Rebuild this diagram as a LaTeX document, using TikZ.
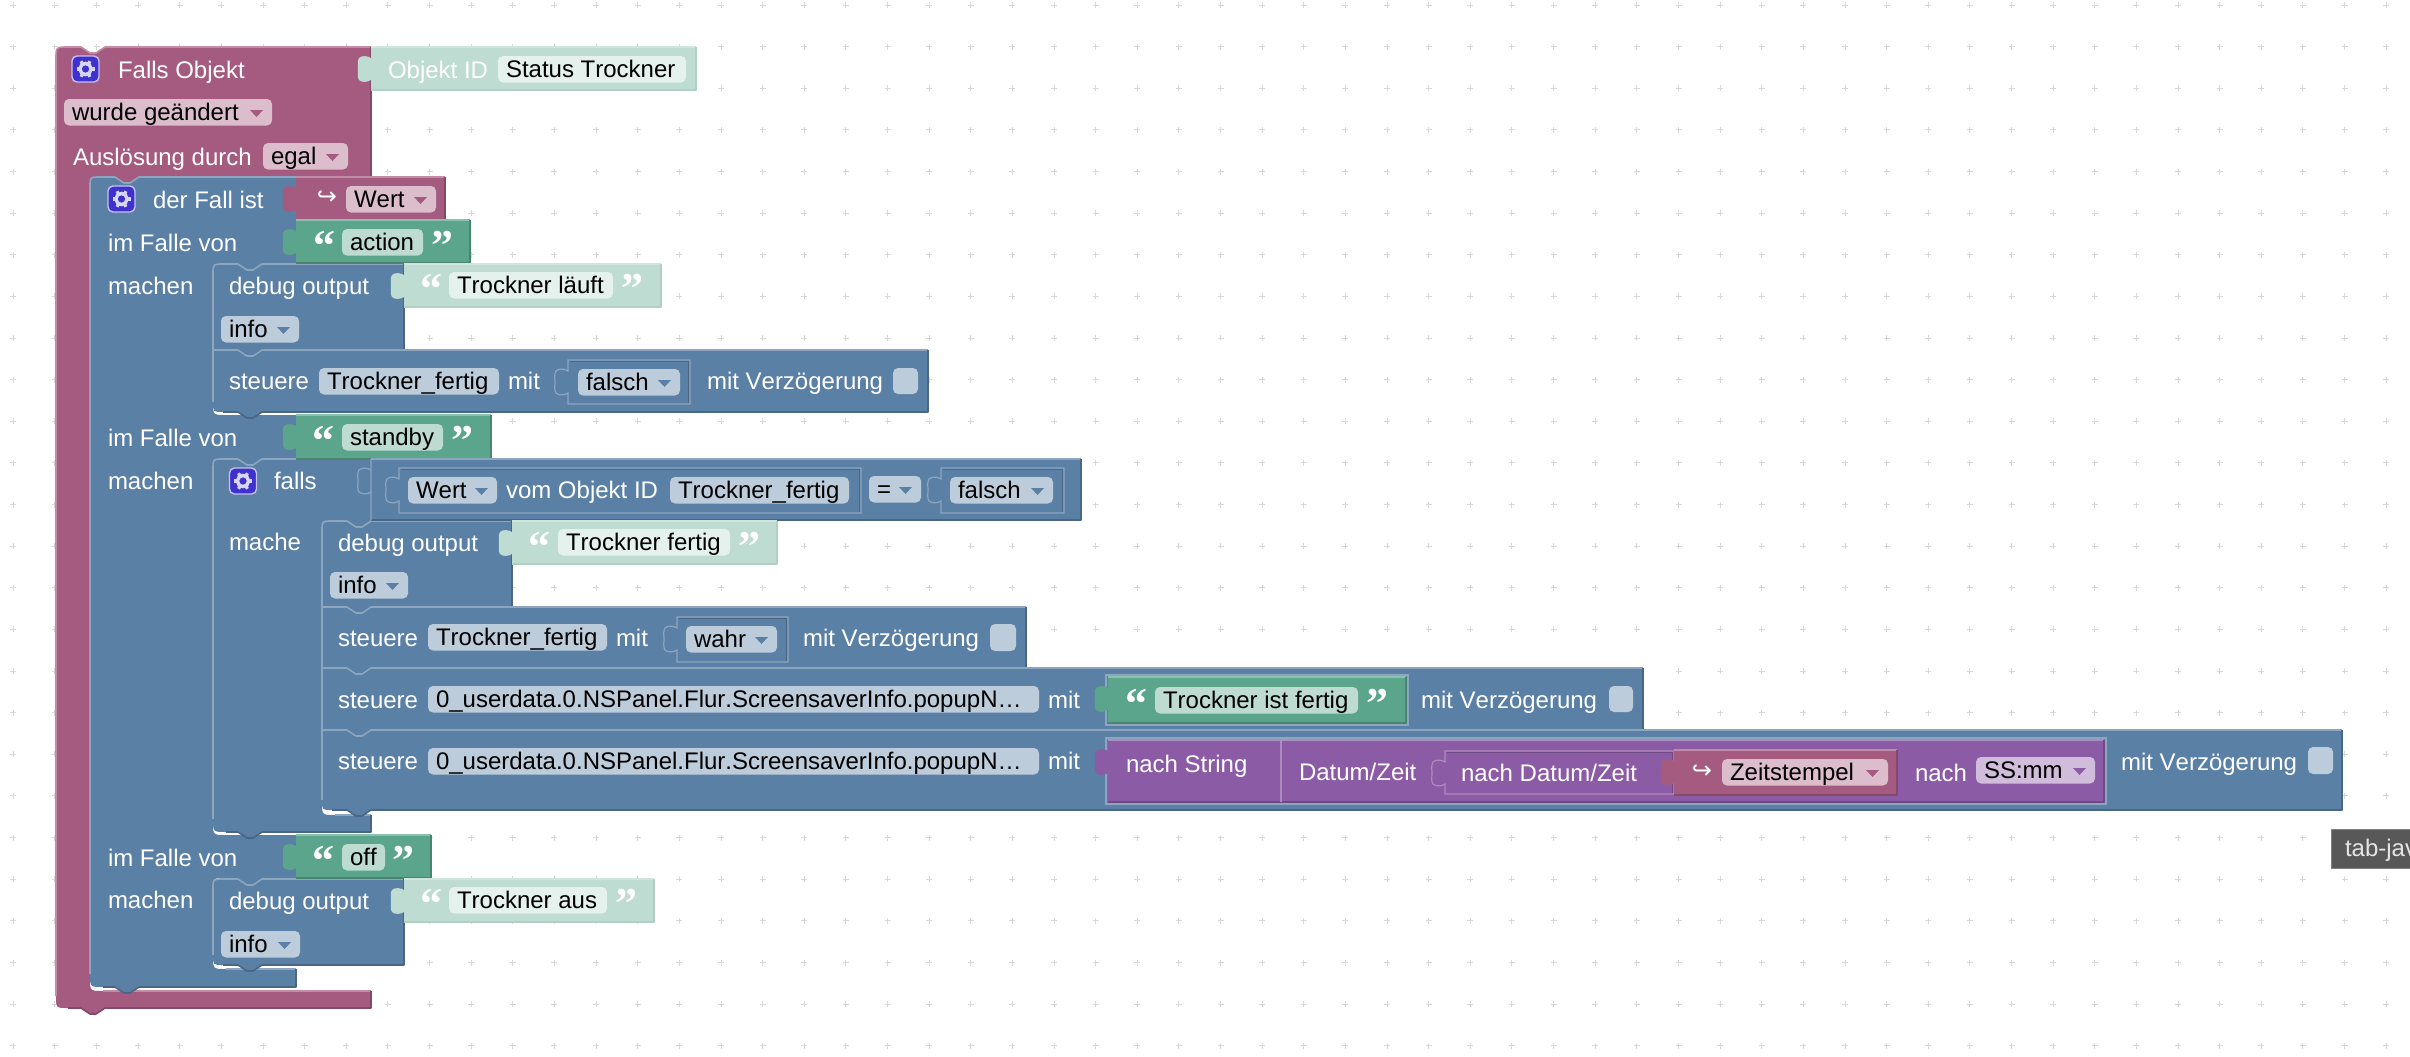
\documentclass[tikz,border=0pt]{standalone}
\usepackage{fontspec}
\setmainfont{Liberation Sans}[Kerning=Off]
\newfontfamily\djvfont{DejaVu Sans}
\newfontfamily\qfont{Liberation Serif}[BoldFont={Liberation Serif Bold}]
\definecolor{b}{HTML}{5B80A5}\definecolor{bL}{HTML}{8CA6C0}\definecolor{bD}{HTML}{496684}\definecolor{bP}{HTML}{BDCCDB}
\definecolor{m}{HTML}{A55B80}\definecolor{mL}{HTML}{C08CA6}\definecolor{mD}{HTML}{844966}\definecolor{mP}{HTML}{DBBDCC}
\definecolor{g}{HTML}{5BA58C}\definecolor{gL}{HTML}{8CC0AE}\definecolor{gD}{HTML}{498470}\definecolor{gP}{HTML}{BDDBD1}
\definecolor{s}{HTML}{BEDCD1}\definecolor{sL}{HTML}{CFE5DD}\definecolor{sD}{HTML}{B0D0C4}\definecolor{sP}{HTML}{E4F1ED}
\definecolor{p}{HTML}{8B5BA5}\definecolor{pL}{HTML}{AD8CC0}\definecolor{pD}{HTML}{6F4984}\definecolor{pP}{HTML}{D1BDDB}
\definecolor{gridc}{HTML}{D8D8D8}
\definecolor{iconc}{HTML}{3F30D0}
\definecolor{tipc}{HTML}{585858}
\newcounter{nn}
\tikzset{
  lbl/.style={anchor=base west,inner sep=0pt,outer sep=0pt,font=\fontsize{12}{14}\selectfont},
  hl/.style={line width=.8pt,line join=round,draw=#1},
  thin box/.style={line width=.6pt,draw=#1},
  quotemark/.style={inner sep=0pt,outer sep=0pt,yshift=-3.5pt,font=\fontsize{22}{24}\selectfont\qfont\bfseries},
}
% text label: [colour]{x}{baseline y}{text}
\newcommand{\lab}[4][white]{\stepcounter{nn}\node[lbl,text=#1] (n\thenn) at (#2,#3) {#4};}
% pill: fill, x1, y1, x2, text, triangle colour
\newcommand{\pill}[6]{%
  \fill[#1,rounded corners=2.5pt] (#2,#3) rectangle (#4,{#3+26.5});
  \lab[black]{{#2+8}}{{#3+21.5}}{#5}
  \def\tmpt{#6}\ifx\tmpt\empty\else
    \fill[#6] ({#4-22},{#3+11}) -- ({#4-9},{#3+11}) -- ({#4-15.5},{#3+18}) -- cycle;
  \fi}
% parent's bump that fills a child's top dent
\newcommand{\bump}[3]{\fill[#1] ({#2+24},{#3-1}) -- ({#2+50},{#3-1}) -- ({#2+41},{#3+7}) -- ({#2+33},{#3+7}) -- cycle;}
% stack block: colour, l, t, r, b, top radius, bottom radius
\newcommand{\stmt}[7]{%
  \fill[#1] (#2,{#3+#6}) .. controls (#2,#3) .. ({#2+#6},#3) -- ({#2+25},#3) -- ({#2+34},{#3+6}) -- ({#2+40},{#3+6}) -- ({#2+49},#3) -- (#4,#3) -- (#4,#5) -- ({#2+49},#5) -- ({#2+40},{#5+6}) -- ({#2+34},{#5+6}) -- ({#2+25},#5) -- ({#2+#7},#5) .. controls (#2,#5) .. (#2,{#5-#7}) -- cycle;
  \draw[hl=#1L] (#2,{#5-#7}) -- (#2,{#3+#6}) .. controls (#2,#3) .. ({#2+#6},#3) -- ({#2+25},#3) -- ({#2+34},{#3+6}) -- ({#2+40},{#3+6}) -- ({#2+49},#3) -- (#4,#3);
  \draw[hl=#1D] (#4,#3) -- (#4,#5) -- ({#2+49},#5) -- ({#2+40},{#5+6}) -- ({#2+34},{#5+6}) -- ({#2+25},#5) -- ({#2+#7},#5);}
% puzzle tab path piece (going up the left side of a value block)
\newcommand{\tabpath}[2]{(#1,{#2+33}) .. controls ({#1-3},{#2+35}) and ({#1-9},{#2+36}) .. ({#1-12},{#2+33}) .. controls ({#1-14},{#2+30}) and ({#1-13},{#2+26}) .. ({#1-13},{#2+22}) .. controls ({#1-13},{#2+18}) and ({#1-14},{#2+14}) .. ({#1-12},{#2+11}) .. controls ({#1-9},{#2+8}) and ({#1-3},{#2+9}) .. (#1,{#2+11})}
% value block: colour, x, t, r, b
\newcommand{\val}[5]{%
  \fill[#1] (#2,#3) -- (#4,#3) -- (#4,#5) -- (#2,#5) -- \tabpath{#2}{#3} -- cycle;
  \draw[hl=#1L] (#4,#3) -- (#2,#3);
  \draw[hl=#1D] (#4,#3) -- (#4,#5) -- (#2,#5);}
% nested same-colour block: light outline
\newcommand{\nest}[5]{%
  \fill[#1] (#2,#3) -- (#4,#3) -- (#4,#5) -- (#2,#5) -- \tabpath{#2}{#3} -- cycle;
  \draw[thin box=#1L] (#4,#3) -- (#4,#5) -- (#2,#5) -- \tabpath{#2}{#3} -- (#2,#3) -- cycle;
  \draw[thin box=#1D] ({#2+1.5},{#3+1.5}) -- ({#4-1.5},{#3+1.5}) -- ({#4-1.5},{#5-1.5});}
\newcommand{\gearicon}[2]{%
  \fill[iconc,draw=white!70!iconc,line width=.7pt,rounded corners=2.5pt] ({#1-13.5},{#2-13}) rectangle ({#1+13.5},{#2+13});
  \foreach \a in {0,60,...,300}{\draw[white!80!iconc,line width=1.6pt] ({#1+5.5*cos(\a)},{#2+5.5*sin(\a)}) -- ({#1+9*cos(\a)},{#2+9*sin(\a)});}
  \draw[white!80!iconc,line width=1.7pt] (#1,#2) circle[radius=2.8pt];}
\newcommand{\qopen}[3]{\stepcounter{nn}\node[quotemark,text=#1] (n\thenn) at (#2,#3) {“};}
\newcommand{\qclose}[3]{\stepcounter{nn}\node[quotemark,text=#1] (n\thenn) at (#2,#3) {”};}
\newcommand{\hook}[2]{\stepcounter{nn}\node[inner sep=0pt,text=white,font=\fontsize{12}{14}\selectfont\djvfont] (n\thenn) at (#1,#2) {↪};}
\begin{document}
\begin{tikzpicture}[x=0.5pt,y=-0.5pt]
\useasboundingbox (0,0) rectangle (2410,1056);
\clip (0,0) rectangle (2410,1056);
\fill[white] (0,0) rectangle (2410,1056);
% workspace grid
\foreach \i in {0,...,57}{\foreach \j in {0,...,25}{%
  \draw[gridc,line width=.5pt] ({13.3+41.63*\i-3},{5+41.63*\j}) -- ({13.3+41.63*\i+3},{5+41.63*\j}) ({13.3+41.63*\i},{5+41.63*\j-3}) -- ({13.3+41.63*\i},{5+41.63*\j+3});}}
% root block
\fill[m] (56,59) .. controls (56,47) .. (68,47) -- (81,47) -- (90,53) -- (96,53) -- (105,47) -- (371,47) -- (371,177) -- (100,177) .. controls (90,177) .. (90,187) -- (90,978) .. controls (90,991) .. (103,991) -- (371,991) -- (371,1008) -- (105,1008) -- (96,1014) -- (90,1014) -- (81,1008) -- (68,1008) .. controls (56,1008) .. (56,996) -- cycle;
\draw[hl=mL] (56,996) -- (56,59) .. controls (56,47) .. (68,47) -- (81,47) -- (90,53) -- (96,53) -- (105,47) -- (371,47);
\draw[hl=mL] (103,991) -- (371,991);
\draw[hl=mD] (371,47) -- (371,177) (371,991) -- (371,1008) -- (105,1008) -- (96,1014) -- (90,1014) -- (81,1008) -- (68,1008);
% der Fall ist
\bump{m}{90}{177}
\fill[b] (90,187) .. controls (90,177) .. (100,177) -- (115,177) -- (124,183) -- (130,183) -- (139,177) -- (296,177) -- (296,264) -- (223,264) .. controls (213,264) .. (213,274) -- (213,402) .. controls (213,415) .. (226,415) -- (296,415) -- (296,459) -- (223,459) .. controls (213,459) .. (213,469) -- (213,822) .. controls (213,835) .. (226,835) -- (296,835) -- (296,878) -- (223,878) .. controls (213,878) .. (213,888) -- (213,956) .. controls (213,969) .. (226,969) -- (296,969) -- (296,987) -- (139,987) -- (130,993) -- (124,993) -- (115,987) -- (103,987) .. controls (90,987) .. (90,974) -- cycle;
\draw[hl=bL] (90,974) -- (90,187) .. controls (90,177) .. (100,177) -- (115,177) -- (124,183) -- (130,183) -- (139,177) -- (296,177);
\draw[hl=bL] (226,969) -- (296,969);
\draw[hl=bD] (296,969) -- (296,987) -- (139,987) -- (130,993) -- (124,993) -- (115,987) -- (103,987);
% case 1 statements
\bump{b}{213}{264}
\stmt{b}{213}{264}{404}{350}{10}{0}
\stmt{b}{213}{350}{928}{412}{0}{10}
% falls block
\bump{b}{213}{459}
\fill[b] (213,469) .. controls (213,459) .. (223,459) -- (238,459) -- (247,465) -- (253,465) -- (262,459) -- (371,459) -- (371,521) -- (332,521) .. controls (322,521) .. (322,531) -- (322,802) .. controls (322,815) .. (335,815) -- (371,815) -- (371,832) -- (262,832) -- (253,838) -- (247,838) -- (238,832) -- (226,832) .. controls (213,832) .. (213,819) -- cycle;
\draw[hl=bL] (213,819) -- (213,469) .. controls (213,459) .. (223,459) -- (238,459) -- (247,465) -- (253,465) -- (262,459) -- (371,459);
\draw[hl=bL] (335,815) -- (371,815);
\draw[hl=bD] (371,815) -- (371,832) -- (262,832) -- (253,838) -- (247,838) -- (238,832) -- (226,832);
% falls inner statements
\bump{b}{322}{521}
\stmt{b}{322}{521}{512}{607}{10}{0}
\stmt{b}{322}{607}{1026}{668}{0}{0}
\stmt{b}{322}{668}{1643}{730}{0}{0}
\stmt{b}{322}{730}{2342}{810}{0}{10}
% case 3 statement
\bump{b}{213}{879}
\stmt{b}{213}{879}{404}{965}{10}{10}
% value blocks
\val{s}{371}{47}{696}{90}
\val{m}{296}{177}{445}{220}
\val{g}{296}{220}{470}{263}
\val{s}{404}{264}{661}{307}
\val{g}{296}{415}{491}{459}
\val{b}{371}{459}{1081}{520}
\draw[thin box=bL] (371,459) -- \tabpath{371}{459} -- (371,520);
\val{s}{512}{521}{777}{564}
\val{g}{296}{835}{431}{878}
\val{s}{404}{879}{654}{922}
% nested boxes
\nest{b}{568}{360}{690}{404}
\nest{b}{399}{468}{861}{513}
\nest{b}{941}{468}{1064}{513}
\nest{b}{677}{617}{788}{662}
\draw[thin box=bL] (1106,675) rectangle (1408,725);
\val{g}{1108}{677}{1406}{723}
\draw[thin box=bL] (1106,738) rectangle (2106,804);
\val{p}{1108}{740}{1281}{802}
\val{p}{1281}{740}{2104}{802}
\draw[thin box=pL] (1281,740) -- (1281,802);
\nest{p}{1445}{751}{1674}{794}
\val{m}{1674}{750}{1897}{795}
% root header
\gearicon{85.5}{69}
\lab{118}{78}{Falls Objekt}
\lab{388}{78}{Objekt ID}
\pill{sP}{498}{56}{686}{Status Trockner}{}
\pill{mP}{64}{99}{272}{wurde geändert}{m}
\lab{73}{165}{Auslösung durch}
\pill{mP}{263}{143}{348}{egal}{m}
% der Fall ist
\gearicon{121.5}{199}
\lab{153}{208}{der Fall ist}
\hook{327}{198}
\pill{mP}{346}{186}{436}{Wert}{m}
\lab{108}{251}{im Falle von}
\qopen{white}{324}{239}
\pill{gP}{342}{229}{423}{action}{}
\qclose{white}{442}{239}
\lab{108}{294}{machen}
% case 1
\lab{229}{294}{debug output}
\qopen{white}{431}{282}
\pill{sP}{449}{272}{613}{Trockner läuft}{}
\qclose{white}{632}{282}
\pill{bP}{221}{316}{299}{info}{b}
\lab{229}{389}{steuere}
\pill{bP}{319}{368}{499}{Trockner\_fertig}{}
\lab{508}{389}{mit}
\pill{bP}{578}{369}{680}{falsch}{b}
\lab{707}{389}{mit Verzögerung}
\fill[bP,rounded corners=2.5pt] (893,368) rectangle (918,394);
% case 2
\lab{108}{446}{im Falle von}
\qopen{white}{323}{434}
\pill{gP}{342}{424}{443}{standby}{}
\qclose{white}{462}{434}
\lab{108}{489}{machen}
\gearicon{243}{481}
\lab{274}{489}{falls}
\pill{bP}{408}{477}{497}{Wert}{b}
\lab{506}{498}{vom Objekt ID}
\pill{bP}{670}{477}{849}{Trockner\_fertig}{}
\pill{bP}{869}{476}{921}{=}{b}
\pill{bP}{950}{477}{1053}{falsch}{b}
\lab{229}{550}{mache}
\lab{338}{551}{debug output}
\qopen{white}{539}{540}
\pill{sP}{558}{529}{730}{Trockner fertig}{}
\qclose{white}{749}{540}
\pill{bP}{330}{572}{408}{info}{b}
\lab{338}{646}{steuere}
\pill{bP}{428}{624}{607}{Trockner\_fertig}{}
\lab{616}{646}{mit}
\pill{bP}{686}{626}{777}{wahr}{b}
\lab{803}{646}{mit Verzögerung}
\fill[bP,rounded corners=2.5pt] (990,624) rectangle (1016,651);
\lab{338}{708}{steuere}
\pill{bP}{428}{686}{1039}{0\_userdata.0.NSPanel.Flur.ScreensaverInfo.popupN…}{}
\lab{1048}{708}{mit}
\qopen{white}{1136}{697}
\pill{gP}{1155}{687}{1358}{Trockner ist fertig}{}
\qclose{white}{1377}{697}
\lab{1421}{708}{mit Verzögerung}
\fill[bP,rounded corners=2.5pt] (1609,686) rectangle (1633,712);
\lab{338}{769}{steuere}
\pill{bP}{428}{748}{1039}{0\_userdata.0.NSPanel.Flur.ScreensaverInfo.popupN…}{}
\lab{1048}{769}{mit}
\lab{1126}{772}{nach String}
\lab{1299}{780}{Datum/Zeit}
\lab{1461}{781}{nach Datum/Zeit}
\hook{1702}{772}
\pill{mP}{1722}{759}{1888}{Zeitstempel}{m}
\lab{1915}{781}{nach}
\pill{pP}{1976}{757}{2095}{SS:mm}{p}
\lab{2121}{770}{mit Verzögerung}
\fill[bP,rounded corners=2.5pt] (2308,747) rectangle (2333,774);
% case 3
\lab{108}{866}{im Falle von}
\qopen{white}{323}{854}
\pill{gP}{342}{844}{385}{off}{}
\qclose{white}{403}{854}
\lab{108}{908}{machen}
\lab{229}{909}{debug output}
\qopen{white}{431}{897}
\pill{sP}{449}{887}{607}{Trockner aus}{}
\qclose{white}{626}{897}
\pill{bP}{221}{931}{300}{info}{b}
% tooltip
\fill[tipc,draw=gray,line width=.5pt] (2331,829) rectangle (2420,868);
\lab[white!90!black]{2345}{856}{tab-jav}
\end{tikzpicture}
\end{document}
